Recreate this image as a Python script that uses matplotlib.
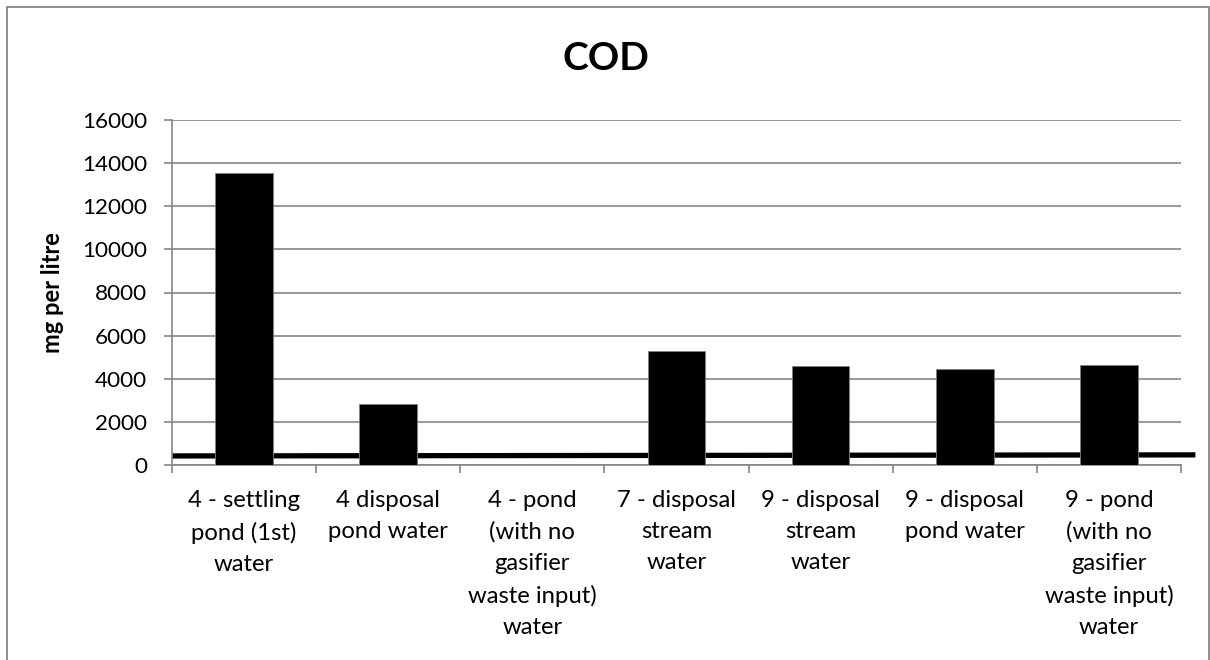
import numpy as np
import matplotlib.pyplot as plt
from matplotlib.patches import Rectangle

plt.rcParams['font.family'] = ['Lato', 'DejaVu Sans']

# data
sites = ["4 - settling\npond (1st)\nwater",
         "4 disposal\npond water",
         "4 - pond\n(with no\ngasifier\nwaste input)\nwater",
         "7 - disposal\nstream\nwater",
         "9 - disposal\nstream\nwater",
         "9 - disposal\npond water",
         "9 - pond\n(with no\ngasifier\nwaste input)\nwater"]
cod = [13520, 2840, 15, 5280, 4610, 4430, 4660]

# the thick black reference line (drawn by hand in the original)
limit_x = [-0.5, 6.6]
limit_y = [420, 470]

yticks = np.arange(0, 16001, 2000)
grey = '#868686'

fig = plt.figure(figsize=(12.1, 6.6), dpi=100)
ax = fig.add_axes([172 / 1210, 1 - 465 / 660, (1181 - 172) / 1210, (465 - 120) / 660])

x = np.arange(len(sites))
ax.plot(limit_x, limit_y, color='black', lw=3.8, solid_capstyle='butt',
        clip_on=False, zorder=2)
ax.bar(x, cod, width=0.4, color='black', edgecolor='#7f7f7f', linewidth=0.6, zorder=3)

ax.set_xlim(-0.5, len(sites) - 0.5)
ax.set_ylim(0, 16000)
ax.set_yticks(yticks)
ax.set_yticklabels([str(v) for v in yticks], fontsize=16.2)
ax.yaxis.grid(True, color=grey, lw=1.2)
ax.set_axisbelow(True)

# category boundaries carry the x ticks
ax.set_xticks(np.arange(-0.5, len(sites), 1.0))
ax.set_xticklabels([])
ax.set_xticks(x, minor=True)
ax.set_xticklabels(sites, minor=True, fontsize=17.2, linespacing=1.6, va='top')
ax.tick_params(axis='x', which='minor', length=0, pad=18)
ax.tick_params(axis='x', which='major', length=6, color=grey, width=1.2)
ax.tick_params(axis='y', length=6, color=grey, width=1.2, pad=12)

for s in ['top', 'right']:
    ax.spines[s].set_visible(False)
for s in ['left', 'bottom']:
    ax.spines[s].set_color(grey)
    ax.spines[s].set_linewidth(1.2)

ax.set_ylabel('mg per litre', fontsize=17, fontweight='bold')
ax.yaxis.set_label_coords((64 - 172) / 1009, 0.5)
fig.text(606 / 1210, 1 - 59 / 660, 'COD', ha='center', va='center',
         fontsize=28, fontweight='bold')

# outer chart frame
fig.patches.append(Rectangle((7 / 1210, -0.1), 1201.5 / 1210, 1.1 - 7 / 660,
                             transform=fig.transFigure, fill=False,
                             edgecolor=grey, lw=1.3))

fig.savefig('out.png', dpi=100)
